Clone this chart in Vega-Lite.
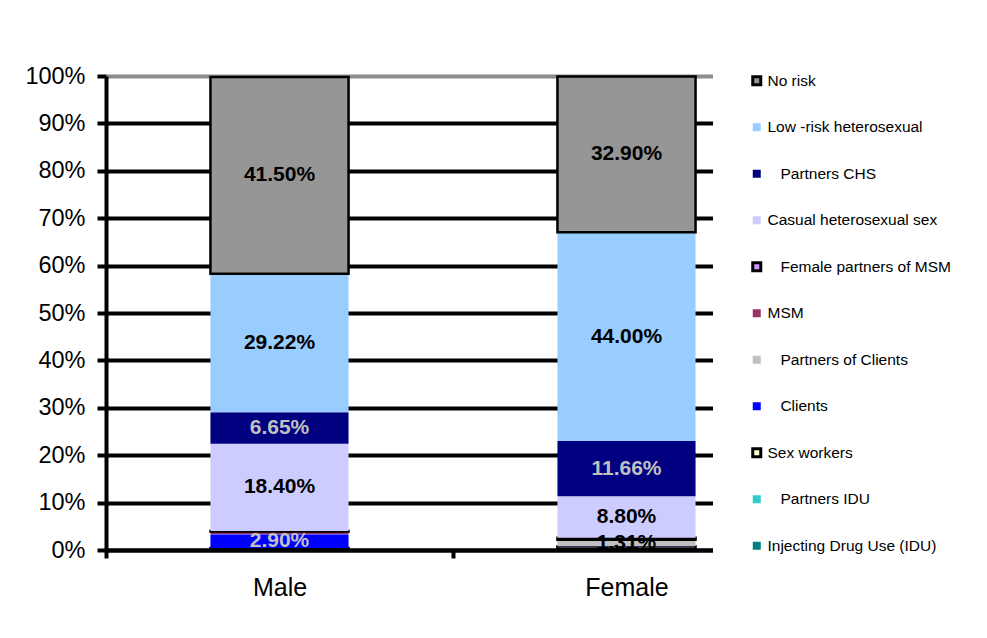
{
  "$schema": "https://vega.github.io/schema/vega-lite/v6.json",
  "autosize": "none",
  "width": 694,
  "height": 474,
  "padding": {"left": 106, "top": 76, "right": 187, "bottom": 88},
  "background": "white",
  "config": {
    "view": {"stroke": null},
    "font": "Liberation Sans"
  },
  "data": {
    "values": [
      {"gender": "Male", "group": "Injecting Drug Use (IDU)", "value": 0.003},
      {"gender": "Male", "group": "Partners IDU", "value": 0.0005},
      {"gender": "Male", "group": "Sex workers", "value": 0.0005},
      {"gender": "Male", "group": "Clients", "value": 0.029},
      {"gender": "Male", "group": "Partners of Clients", "value": 0.001},
      {"gender": "Male", "group": "MSM", "value": 0.005},
      {"gender": "Male", "group": "Female partners of MSM", "value": 0.001},
      {"gender": "Male", "group": "Casual heterosexual sex", "value": 0.184},
      {"gender": "Male", "group": "Partners CHS", "value": 0.0665},
      {"gender": "Male", "group": "Low -risk heterosexual", "value": 0.2922},
      {"gender": "Male", "group": "No risk", "value": 0.415},
      {"gender": "Female", "group": "Injecting Drug Use (IDU)", "value": 0.001},
      {"gender": "Female", "group": "Partners IDU", "value": 0.0005},
      {"gender": "Female", "group": "Sex workers", "value": 0.006},
      {"gender": "Female", "group": "Clients", "value": 0.0005},
      {"gender": "Female", "group": "Partners of Clients", "value": 0.0131},
      {"gender": "Female", "group": "MSM", "value": 0.0005},
      {"gender": "Female", "group": "Female partners of MSM", "value": 0.004},
      {"gender": "Female", "group": "Casual heterosexual sex", "value": 0.088},
      {"gender": "Female", "group": "Partners CHS", "value": 0.1166},
      {"gender": "Female", "group": "Low -risk heterosexual", "value": 0.44},
      {"gender": "Female", "group": "No risk", "value": 0.329}
    ]
  },
  "transform": [
    {"calculate": "indexof(['Injecting Drug Use (IDU)','Partners IDU','Sex workers','Clients','Partners of Clients','MSM','Female partners of MSM','Casual heterosexual sex','Partners CHS','Low -risk heterosexual','No risk'], datum.group)", "as": "ord"},
    {"stack": "value", "groupby": ["gender"], "sort": [{"field": "ord", "order": "ascending"}], "as": ["y0", "y1"]},
    {"calculate": "(datum.y0 + datum.y1) / 2", "as": "mid"}
  ],
  "encoding": {
    "x": {
      "field": "gender",
      "type": "nominal",
      "sort": ["Male", "Female"],
      "scale": {"paddingInner": 0, "paddingOuter": 0},
      "axis": {
        "title": null,
        "zindex": 1,
        "labelAngle": 0,
        "labelFontSize": 25,
        "labelColor": "black",
        "labelPadding": 17,
        "domainColor": "black",
        "domainWidth": 4,
        "tickColor": "black",
        "tickWidth": 4,
        "tickSize": 8,
        "tickBand": "extent",
        "grid": false
      }
    }
  },
  "layer": [
    {
      "mark": {"type": "bar", "strokeWidth": 2.5, "width": {"band": 0.398}},
      "encoding": {
        "y": {
          "field": "y0",
          "type": "quantitative",
          "scale": {"domain": [0, 1], "nice": false, "zero": true},
          "axis": {
            "title": null,
            "values": [0, 0.1, 0.2, 0.3, 0.4, 0.5, 0.6, 0.7, 0.8, 0.9, 1],
            "format": ".0%",
            "labelFontSize": 23.5,
            "labelColor": "black",
            "labelPadding": 12,
            "domainColor": "black",
            "domainWidth": 4,
            "tickColor": "black",
            "tickWidth": 4,
            "tickSize": 9,
            "grid": true,
            "gridWidth": 4,
            "gridColor": {"condition": {"test": "datum.value === 1", "value": "#8c8c8c"}, "value": "black"},
            "gridOpacity": 1
          }
        },
        "y2": {"field": "y1"},
        "color": {
          "field": "group",
          "type": "nominal",
          "scale": {
            "domain": ["No risk", "Low -risk heterosexual", "Partners CHS", "Casual heterosexual sex", "Female partners of MSM", "MSM", "Partners of Clients", "Clients", "Sex workers", "Partners IDU", "Injecting Drug Use (IDU)"],
            "range": ["#969696", "#99CCFF", "#000080", "#CCCCFF", "#CC99FF", "#993366", "#C0C0C0", "#0000FF", "#FFFFCC", "#33CCCC", "#008080"]
          },
          "legend": {
            "title": null,
            "orient": "none",
            "legendX": 607,
            "legendY": -39,
            "padding": 36,
            "fillColor": "white",
            "zindex": 2,
            "symbolType": "square",
            "symbolSize": 64,
            "symbolStrokeWidth": 3,
            "symbolOpacity": 1,
            "labelFontSize": 15.5,
            "labelColor": "black",
            "labelOffset": 3,
            "labelLimit": 300,
            "rowPadding": 25.5,
            "labelExpr": "indexof(['Partners CHS','Female partners of MSM','Partners of Clients','Clients','Partners IDU'], datum.label) >= 0 ? '\u200b\u00a0\u00a0\u00a0' + datum.label : datum.label"
          }
        },
        "stroke": {
          "field": "group",
          "type": "nominal",
          "scale": {
            "domain": ["No risk", "Low -risk heterosexual", "Partners CHS", "Casual heterosexual sex", "Female partners of MSM", "MSM", "Partners of Clients", "Clients", "Sex workers", "Partners IDU", "Injecting Drug Use (IDU)"],
            "range": ["black", "transparent", "transparent", "transparent", "black", "transparent", "transparent", "transparent", "black", "transparent", "transparent"]
          },
          "legend": null
        }
      }
    },
    {
      "transform": [{"filter": "datum.value >= 0.013"}],
      "mark": {"type": "text", "font": "Liberation Sans", "fontSize": 21, "fontWeight": "bold", "baseline": "middle", "align": "center"},
      "encoding": {
        "y": {"field": "mid", "type": "quantitative"},
        "text": {"field": "value", "type": "quantitative", "format": ".2%"},
        "color": {
          "condition": {"test": "datum.group === 'Clients' || datum.group === 'Partners CHS'", "value": "#C0C0C0"},
          "value": "black"
        }
      }
    }
  ]
}
